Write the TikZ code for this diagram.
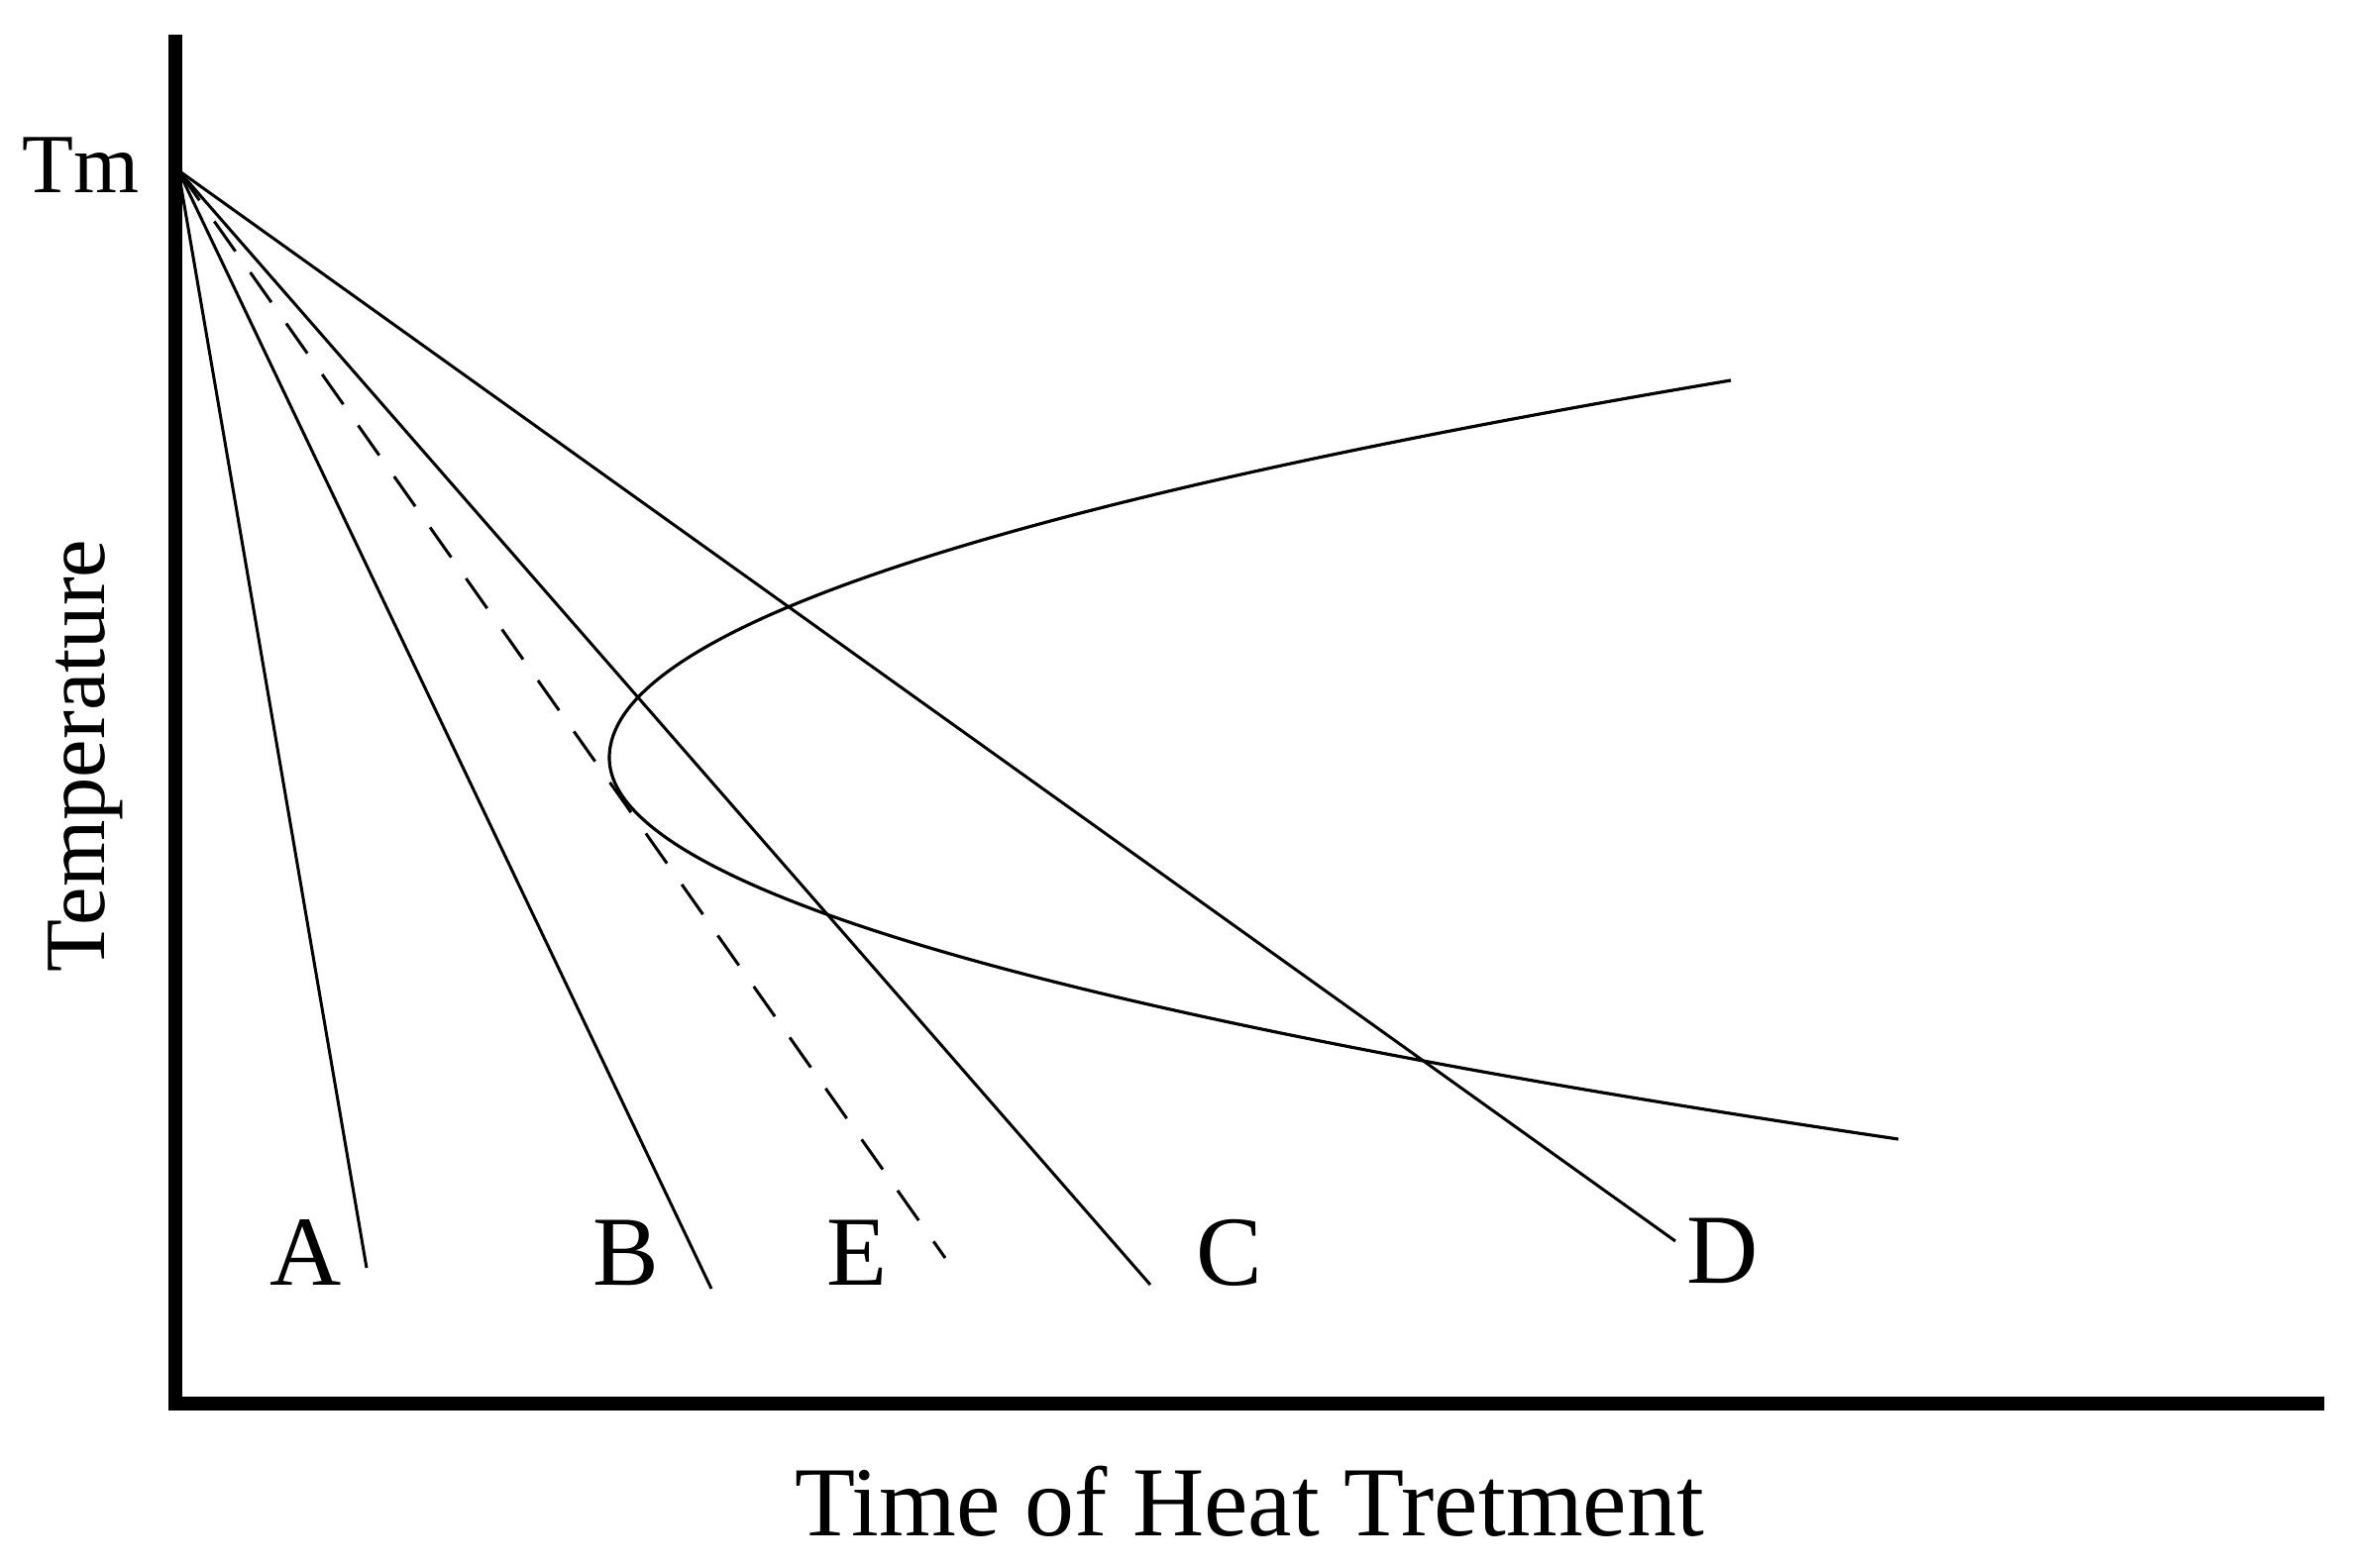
\documentclass[tikz,border=0pt]{standalone}
\usepackage{fontspec}
\setmainfont{Liberation Serif}
\begin{document}
\begin{tikzpicture}[x=0.3pt,y=-0.3pt,
  axisline/.style={line width=4pt},
  coolline/.style={line width=0.9pt},
  ccurve/.style={line width=0.95pt},
  lbl/.style={anchor=base,inner sep=0pt,font=\fontsize{30pt}{36pt}\selectfont},
  axlbl/.style={anchor=base,inner sep=0pt,font=\fontsize{26pt}{31pt}\selectfont}]
\useasboundingbox[fill=white] (0,0) rectangle (2382,1583);
% axes
\coordinate (ytop) at (177,35);
\coordinate (corner) at (177,1417);
\coordinate (xend) at (2346,1417);
\draw[axisline] (ytop) -- (177,1424);
\draw[axisline] (171,1417) -- (xend);
% origin at Tm
\coordinate (O) at (180,172);
\coordinate (Aend) at (370,1280);
\coordinate (Bend) at (718,1301);
\coordinate (Eend) at (954,1270);
\coordinate (Cend) at (1161,1297);
\coordinate (Dend) at (1691,1253);
\draw[coolline] (O) -- (Aend);
\draw[coolline] (O) -- (Bend);
\draw[coolline,dash pattern=on 11.1pt off 7.8pt] (O) -- (Eend);
\draw[coolline] (O) -- (Cend);
\draw[coolline] (O) -- (Dend);
% C-curve (two parabolic arcs meeting at the nose)
\coordinate (ctop) at (1747,384);
\coordinate (nose) at (615,765);
\coordinate (cbot) at (1916,1150);
\draw[ccurve] (ctop) .. controls (992,511) and (615,638) .. (nose)
  .. controls (615,893) and (1049,1022) .. (cbot);
% labels
\node[axlbl,font=\fontsize{25.5pt}{31pt}\selectfont] (tm) at (82,195) {Tm};
\node[axlbl,rotate=90] (temp) at (105,763) {Temperature};
\node[lbl] (xlab) at (1261,1550) {Time of Heat Tretment};
\node[lbl] (la) at (309,1297) {A};
\node[lbl] (lb) at (632,1297) {B};
\node[lbl] (le) at (865,1297) {E};
\node[lbl] (lc) at (1241,1297) {C};
\node[lbl] (ld) at (1739,1295) {D};
\end{tikzpicture}
\end{document}
